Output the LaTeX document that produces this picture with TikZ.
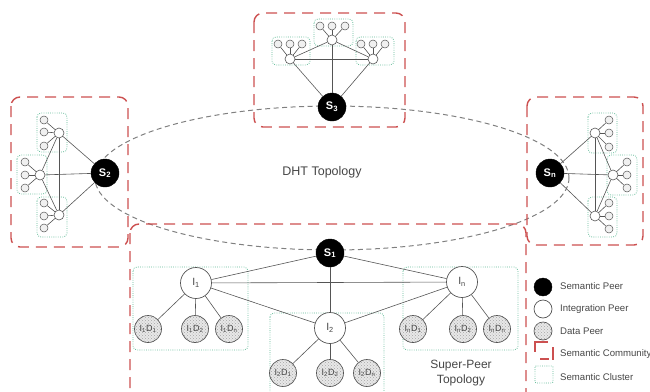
\documentclass[tikz,border=0pt]{standalone}
\usepackage{fontspec}
\setmainfont{Liberation Sans}
\usetikzlibrary{patterns}
\definecolor{commred}{RGB}{204,80,80}
\definecolor{clustgreen}{RGB}{95,185,150}
\definecolor{linegray}{RGB}{85,85,85}
\definecolor{textgray}{RGB}{70,70,70}

\begin{document}
\begin{tikzpicture}[x=1pt,y=-1pt,
  community/.style={draw=commred, line width=1.4pt, dash pattern=on 11pt off 7pt, rounded corners=9pt},
  cluster/.style={draw=clustgreen, line width=0.8pt, dash pattern=on 0.8pt off 1.4pt, rounded corners=4pt},
  dht/.style={draw=gray, line width=1pt, dash pattern=on 5pt off 3.5pt},
  link/.style={draw=linegray, line width=0.6pt},
  speer/.style={circle, fill=black, draw=black, minimum size=28pt, inner sep=0pt, text=white,
    font=\bfseries\fontsize{11}{11}\selectfont},
  ipeer/.style={circle, fill=white, draw=linegray, line width=0.7pt, minimum size=31pt, inner sep=0pt,
    text=textgray, font=\fontsize{10.5}{10.5}\selectfont},
  dpeer/.style={circle, draw=linegray, line width=0.7pt, minimum size=27pt, inner sep=0pt,
    fill=gray!18, pattern color=gray!70, text=textgray, font=\fontsize{9}{9}\selectfont},
  smalli/.style={circle, fill=white, draw=linegray, line width=0.6pt, minimum size=10pt, inner sep=0pt},
  smalld/.style={circle, fill=gray!12, draw=linegray, line width=0.5pt, minimum size=8pt, inner sep=0pt},
  legtext/.style={anchor=west, text=textgray, font=\fontsize{9.6}{9.6}\selectfont, inner sep=0pt}
]
\useasboundingbox (0,0) rectangle (650,391);

% ---------- semantic clusters ----------
% community S3
\draw[cluster] (272,37) rectangle (310,65);
\draw[cluster] (314,19) rectangle (353,46);
\draw[cluster] (356,37) rectangle (394,65);
% community S2
\draw[cluster] (37,113) rectangle (67,152);
\draw[cluster] (17,155) rectangle (47,194);
\draw[cluster] (37,197) rectangle (67,237);
% community Sn
\draw[cluster] (588,113) rectangle (617,153);
\draw[cluster] (607,155) rectangle (637,195);
\draw[cluster] (588,197) rectangle (617,237);
% community S1
\draw[cluster] (133,267) rectangle (248,350);
\draw[cluster] (270,313) rectangle (384,400);
\draw[cluster] (403,267) rectangle (518,350);

% ---------- DHT ring ----------
\draw[dht] (332,178) ellipse [x radius=237, y radius=72];
\node[text=textgray, font=\fontsize{12.5}{12.5}\selectfont] (dhtlabel) at (322,172) {DHT Topology};

% ---------- semantic communities ----------
\draw[community] (254,13) rectangle (405,127);
\draw[community] (11,97) rectangle (128,247);
\draw[community] (527,97) rectangle (643,245);
\draw[community] (130,224) rectangle (526,410);

% ---------- community S3 ----------
\node[speer] (s3) at (332,107) {S\textsubscript{3}};
\node[smalli] (a1) at (290,59) {};
\node[smalli] (a2) at (332,40) {};
\node[smalli] (a3) at (373,59) {};
\foreach \x [count=\k] in {278,290,302} \node[smalld] (a1d\k) at (\x,44) {};
\foreach \x [count=\k] in {320,332,345} \node[smalld] (a2d\k) at (\x,26) {};
\foreach \x [count=\k] in {361,373,385} \node[smalld] (a3d\k) at (\x,44) {};
\foreach \i in {1,2,3} {
  \draw[link] (s3) -- (a\i);
  \foreach \k in {1,2,3} \draw[link] (a\i) -- (a\i d\k);
}
\draw[link] (a1) -- (a3);
\draw[link] (a1) -- (a2);
\draw[link] (a2) -- (a3);

% ---------- community S2 ----------
\node[speer] (s2) at (105,173) {S\textsubscript{2}};
\node[smalli] (b1) at (59,133) {};
\node[smalli] (b2) at (40,175) {};
\node[smalli] (b3) at (59,215) {};
\foreach \y [count=\k] in {120,132,146} \node[smalld] (b1d\k) at (44,\y) {};
\foreach \y [count=\k] in {162,175,188} \node[smalld] (b2d\k) at (25,\y) {};
\foreach \y [count=\k] in {203,216,228} \node[smalld] (b3d\k) at (44,\y) {};
\foreach \i in {1,2,3} {
  \draw[link] (s2) -- (b\i);
  \foreach \k in {1,2,3} \draw[link] (b\i) -- (b\i d\k);
}
\draw[link] (b1) -- (b3);
\draw[link] (b1) -- (b2);
\draw[link] (b2) -- (b3);

% ---------- community Sn ----------
\node[speer] (sn) at (550,173) {S\textsubscript{n}};
\node[smalli] (c1) at (595,133) {};
\node[smalli] (c2) at (613,175) {};
\node[smalli] (c3) at (595,216) {};
\foreach \y [count=\k] in {120,133,147} \node[smalld] (c1d\k) at (609,\y) {};
\foreach \y [count=\k] in {162,175,188} \node[smalld] (c2d\k) at (627,\y) {};
\foreach \y [count=\k] in {203,216,229} \node[smalld] (c3d\k) at (609,\y) {};
\foreach \i in {1,2,3} {
  \draw[link] (sn) -- (c\i);
  \foreach \k in {1,2,3} \draw[link] (c\i) -- (c\i d\k);
}
\draw[link] (c1) -- (c3);
\draw[link] (c1) -- (c2);
\draw[link] (c2) -- (c3);

% ---------- super-peer topology (community S1) ----------
\node[speer] (s1) at (330,253) {S\textsubscript{1}};
\node[ipeer] (i1) at (196,283) {I\textsubscript{1}};
\node[ipeer] (i2) at (330,328) {I\textsubscript{2}};
\node[ipeer] (in) at (462,282) {I\textsubscript{n}};

\node[dpeer, postaction={pattern=crosshatch dots}] (i1d1) at (148,329) {I\textsubscript{1}D\textsubscript{1}};
\node[dpeer, postaction={pattern=crosshatch dots}] (i1d2) at (195,329) {I\textsubscript{1}D\textsubscript{2}};
\node[dpeer, postaction={pattern=crosshatch dots}] (i1d3) at (229,329) {I\textsubscript{1}D\textsubscript{n}};
\node[dpeer, postaction={pattern=crosshatch dots}] (i2d1) at (283,373) {I\textsubscript{2}D\textsubscript{1}};
\node[dpeer, postaction={pattern=crosshatch dots}] (i2d2) at (330,373) {I\textsubscript{2}D\textsubscript{2}};
\node[dpeer, postaction={pattern=crosshatch dots}] (i2d3) at (367,373) {I\textsubscript{2}D\textsubscript{n}};
\node[dpeer, postaction={pattern=crosshatch dots}] (ind1) at (413,329) {I\textsubscript{n}D\textsubscript{1}};
\node[dpeer, postaction={pattern=crosshatch dots}] (ind2) at (463,329) {I\textsubscript{n}D\textsubscript{2}};
\node[dpeer, postaction={pattern=crosshatch dots}] (ind3) at (497,329) {I\textsubscript{n}D\textsubscript{n}};

\draw[link] (s1) -- (i1);
\draw[link] (s1) -- (i2);
\draw[link] (s1) -- (in);
\draw[link] (i1) -- (in);
\draw[link] (i1) -- (i2);
\draw[link] (i2) -- (in);
\foreach \k in {1,2,3} {
  \draw[link] (i1) -- (i1d\k);
  \draw[link] (i2) -- (i2d\k);
  \draw[link] (in) -- (ind\k);
}

\node[text=textgray, font=\fontsize{12}{15}\selectfont, align=center] (sptitle) at (461,373) {Super-Peer\\Topology};

% ---------- legend ----------
\node[circle, fill=black, draw=black, minimum size=18pt, inner sep=0pt] (lg1) at (543,287) {};
\node[circle, fill=white, draw=linegray, line width=0.7pt, minimum size=18pt, inner sep=0pt] (lg2) at (543,309) {};
\node[circle, fill=gray!18, draw=linegray, line width=0.7pt, minimum size=18pt, inner sep=0pt,
      postaction={pattern=crosshatch dots, pattern color=gray!70}] (lg3) at (543,331) {};
\draw[draw=commred, line width=1.4pt] (548,342) -- (535,342) -- (535,352);
\draw[draw=commred, line width=1.4pt] (540,359) -- (549,359);
\draw[draw=commred, line width=1.4pt] (553,347) -- (553,360);
\draw[cluster, rounded corners=1pt] (535,366) rectangle (553,383);
\node[legtext] (lt1) at (560,286) {Semantic Peer};
\node[legtext] (lt2) at (560,309) {Integration Peer};
\node[legtext] (lt3) at (560,331) {Data Peer};
\node[legtext] (lt4) at (560,354) {Semantic Community};
\node[legtext] (lt5) at (560,377) {Semantic Cluster};
\end{tikzpicture}
\end{document}
